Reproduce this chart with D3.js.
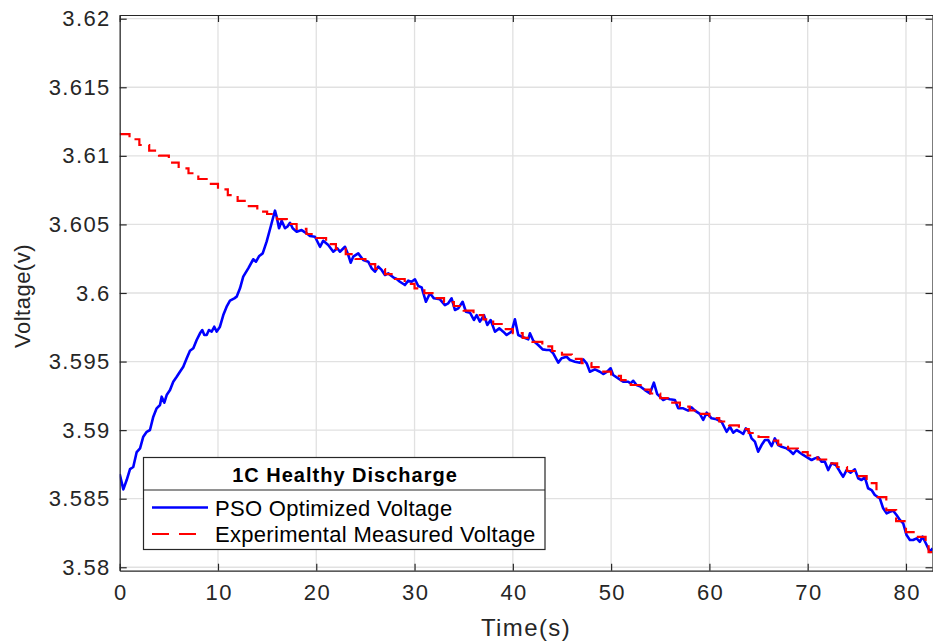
<!DOCTYPE html>
<html>
<head>
<meta charset="utf-8">
<script src="https://cdn.jsdelivr.net/npm/d3@7"></script>
<style>
  body { margin: 0; background: #fff; }
  text { font-family: "Liberation Sans", Arial, Helvetica, sans-serif; fill: #262626; }
</style>
</head>
<body>
<div id="chart"></div>
<script>
// tick values
const xTicks = [0, 10, 20, 30, 40, 50, 60, 70, 80];
const yTicks = [3.58, 3.585, 3.59, 3.595, 3.6, 3.605, 3.61, 3.615, 3.62];
const yTickLabels = ["3.58", "3.585", "3.59", "3.595", "3.6", "3.605", "3.61", "3.615", "3.62"];

// PSO optimized voltage (blue)
const blueTime = [0, 0.37, 0.71, 1.05, 1.38, 1.73, 2.07, 2.40, 2.75, 3.08, 3.42, 3.76, 4.10, 4.27, 4.54, 4.78,
  5.12, 5.45, 5.80, 6.13, 6.47, 6.82, 7.15, 7.49, 7.83, 8.17, 8.40, 8.61, 8.85, 9.08, 9.36, 9.62, 9.87,
  10.20, 10.54, 10.88, 11.22, 11.66, 11.90, 12.24, 12.57, 13.08, 13.59, 13.87, 14.20, 14.55, 14.95,
  15.36, 15.63, 15.80, 15.97, 16.21, 16.48, 16.82, 17.05, 17.33, 17.60, 18.01, 18.51, 19.02, 19.36, 19.87,
  20.38, 20.71, 21.22, 21.73, 22.14, 22.41, 22.92, 23.26, 23.50, 23.76, 24.27, 24.78, 25.29, 25.64, 25.97,
  26.31, 26.65, 26.99, 27.32, 27.83, 28.18, 28.51, 29.02, 29.36, 29.70, 30.04, 30.38, 30.72, 31.16, 31.57,
  31.97, 32.58, 33.09, 33.43, 33.77, 34.11, 34.45, 34.89, 35.23, 35.64, 36.04, 36.32, 36.65, 37.06, 37.40,
  37.74, 38.18, 38.62, 39.02, 39.37, 39.88, 40.21, 40.55, 41.06, 41.57, 41.74, 42.08, 42.58, 43.03, 43.44,
  43.77, 44.11, 44.62, 44.96, 45.47, 45.81, 46.32, 46.83, 47.16, 47.51, 47.84, 48.35, 48.86, 49.20, 49.60,
  49.95, 50.21, 50.72, 51.23, 51.74, 51.98, 52.25, 52.59, 53.00, 53.44, 53.95, 54.35, 54.69, 54.96, 55.30,
  55.65, 55.98, 56.49, 56.83, 57.34, 57.84, 58.19, 58.53, 59.03, 59.37, 59.72, 60.22, 60.73, 61.24, 61.75,
  62.09, 62.42, 62.77, 63.10, 63.44, 63.71, 64.05, 64.29, 64.63, 64.96, 65.31, 65.65, 65.98, 66.33, 66.66,
  67.00, 67.35, 67.85, 68.19, 68.53, 68.87, 69.21, 69.54, 69.95, 70.40, 70.73, 71.07, 71.41, 71.75, 72.09,
  72.43, 72.87, 73.28, 73.61, 73.96, 74.36, 74.80, 75.14, 75.48, 75.82, 76.15, 76.50, 76.83, 77.34, 77.68,
  78.03, 78.36, 78.70, 79.04, 79.38, 79.72, 80.06, 80.40, 80.73, 81.08, 81.41, 81.69, 82.02, 82.43, 82.71];
const blueVolt = [3.58680, 3.58568, 3.58636, 3.58716, 3.58731, 3.58840, 3.58867, 3.58952, 3.58988, 3.59001,
  3.59098, 3.59159, 3.59183, 3.59244, 3.59200, 3.59256, 3.59292, 3.59353, 3.59389, 3.59426, 3.59462, 3.59524,
  3.59579, 3.59597, 3.59657, 3.59706, 3.59730, 3.59694, 3.59694, 3.59730, 3.59718, 3.59754, 3.59718, 3.59754,
  3.59839, 3.59900, 3.59944, 3.59961, 3.59973, 3.60034, 3.60119, 3.60180, 3.60246, 3.60228, 3.60270, 3.60289,
  3.60374, 3.60483, 3.60556, 3.60600, 3.60556, 3.60472, 3.60527, 3.60472, 3.60483, 3.60512, 3.60472, 3.60447,
  3.60459, 3.60435, 3.60415, 3.60410, 3.60337, 3.60381, 3.60350, 3.60301, 3.60326, 3.60301, 3.60337, 3.60277,
  3.60221, 3.60265, 3.60289, 3.60240, 3.60228, 3.60180, 3.60155, 3.60192, 3.60168, 3.60131, 3.60143, 3.60114,
  3.60102, 3.60082, 3.60058, 3.60090, 3.60082, 3.60100, 3.60051, 3.60041, 3.59936, 3.59998, 3.59961, 3.59954,
  3.59912, 3.59925, 3.59961, 3.59876, 3.59888, 3.59936, 3.59863, 3.59856, 3.59803, 3.59839, 3.59791, 3.59839,
  3.59767, 3.59803, 3.59718, 3.59742, 3.59718, 3.59694, 3.59718, 3.59808, 3.59694, 3.59677, 3.59662, 3.59706,
  3.59652, 3.59621, 3.59589, 3.59584, 3.59584, 3.59560, 3.59492, 3.59524, 3.59535, 3.59511, 3.59499, 3.59492,
  3.59516, 3.59487, 3.59426, 3.59443, 3.59426, 3.59409, 3.59426, 3.59451, 3.59402, 3.59378, 3.59353, 3.59353,
  3.59341, 3.59360, 3.59329, 3.59317, 3.59292, 3.59268, 3.59346, 3.59263, 3.59244, 3.59220, 3.59232, 3.59225,
  3.59220, 3.59159, 3.59159, 3.59142, 3.59166, 3.59142, 3.59118, 3.59074, 3.59127, 3.59086, 3.59079, 3.59061,
  3.58988, 3.59025, 3.58981, 3.59001, 3.58988, 3.58972, 3.59013, 3.58988, 3.58940, 3.58916, 3.58843, 3.58891,
  3.58928, 3.58928, 3.58884, 3.58940, 3.58891, 3.58879, 3.58867, 3.58850, 3.58826, 3.58855, 3.58835, 3.58819,
  3.58802, 3.58782, 3.58794, 3.58802, 3.58770, 3.58770, 3.58709, 3.58758, 3.58746, 3.58697, 3.58660, 3.58709,
  3.58689, 3.58714, 3.58649, 3.58636, 3.58656, 3.58576, 3.58563, 3.58527, 3.58503, 3.58430, 3.58393, 3.58405,
  3.58412, 3.58381, 3.58345, 3.58320, 3.58235, 3.58199, 3.58199, 3.58211, 3.58186, 3.58223, 3.58175, 3.58113,
  3.58138];

// experimental measured voltage (red, stepped)
const redTime = [0, 1, 2, 3, 4, 5, 6, 7, 8, 9, 10, 11, 12, 13, 14, 15, 16, 17, 18, 19, 20, 21, 22, 23, 24,
  25, 26, 27, 28, 29, 30, 31, 32, 33, 34, 35, 36, 37, 38, 39, 40, 41, 42, 43, 44, 45, 46, 47, 48, 49, 50,
  51, 52, 53, 54, 55, 56, 57, 58, 59, 60, 61, 62, 63, 64, 65, 66, 67, 68, 69, 70, 71, 72, 73, 74, 75, 76,
  77, 78, 79, 80, 81, 82, 82.3, 82.7];
const redVolt = [3.61159, 3.61121, 3.61079, 3.61038, 3.61001, 3.60950, 3.60909, 3.60873, 3.60831, 3.60795,
  3.60756, 3.60714, 3.60671, 3.60634, 3.60593, 3.60576, 3.60539, 3.60503, 3.60467, 3.60430, 3.60401, 3.60357,
  3.60321, 3.60284, 3.60248, 3.60211, 3.60175, 3.60138, 3.60102, 3.60066, 3.60033, 3.59999, 3.59963, 3.59934,
  3.59905, 3.59872, 3.59839, 3.59807, 3.59774, 3.59737, 3.59708, 3.59672, 3.59643, 3.59610, 3.59577, 3.59551,
  3.59519, 3.59489, 3.59460, 3.59427, 3.59395, 3.59365, 3.59329, 3.59296, 3.59267, 3.59234, 3.59201, 3.59172,
  3.59143, 3.59118, 3.59088, 3.59063, 3.59034, 3.59008, 3.58979, 3.58950, 3.58924, 3.58895, 3.58866, 3.58840,
  3.58815, 3.58786, 3.58757, 3.58731, 3.58702, 3.58665, 3.58614, 3.58512, 3.58417, 3.58337, 3.58257, 3.58221,
  3.58162, 3.58111, 3.58111];

const legendTitle = "1C Healthy Discharge";
const seriesNames = ["PSO Optimized Voltage", "Experimental Measured Voltage"];

const W = 933, H = 642;
const plot = {left: 119.7, right: 932.5, top: 15, bottom: 570.7};
const axisColor = "#262626";

const svg = d3.select("#chart").append("svg")
    .attr("width", W)
    .attr("height", H);

const x = d3.scaleLinear().domain([0, 82.7]).range([plot.left, plot.right]);
const y = d3.scaleLinear().domain([3.57975, 3.62027]).range([plot.bottom, plot.top]);

svg.append("clipPath").attr("id", "clip")
  .append("rect")
    .attr("x", plot.left).attr("y", plot.top)
    .attr("width", plot.right - plot.left).attr("height", plot.bottom - plot.top);

// grid
const grid = svg.append("g").attr("stroke", "#e1e1e1").attr("stroke-width", 1.3);
grid.selectAll(".gx").data(xTicks).join("line")
    .attr("x1", d => x(d)).attr("x2", d => x(d))
    .attr("y1", plot.top).attr("y2", plot.bottom);
grid.selectAll(".gy").data(yTicks).join("line")
    .attr("x1", plot.left).attr("x2", plot.right)
    .attr("y1", d => y(d)).attr("y2", d => y(d));

// lines
const blueData = blueTime.map((t, i) => ({t: t, v: blueVolt[i]}));
const redData = redTime.map((t, i) => ({t: t, v: redVolt[i]}));

const lines = svg.append("g").attr("clip-path", "url(#clip)");

lines.append("path")
    .datum(blueData)
    .attr("fill", "none")
    .attr("stroke", "#0000ff")
    .attr("stroke-width", 2.6)
    .attr("stroke-linejoin", "round")
    .attr("d", d3.line().x(d => x(d.t)).y(d => y(d.v)));

lines.append("path")
    .datum(redData)
    .attr("fill", "none")
    .attr("stroke", "#ff0000")
    .attr("stroke-width", 2.2)
    .attr("stroke-dasharray", "13,7")
    .attr("d", d3.line().curve(d3.curveStepAfter).x(d => x(d.t)).y(d => y(d.v)));

// axes (box with inward ticks on all sides)
function styleAxis(g) {
  g.select(".domain").attr("stroke", axisColor).attr("stroke-width", 1.2);
  g.selectAll(".tick line").attr("stroke", axisColor).attr("stroke-width", 1.2);
  g.selectAll(".tick text")
    .attr("fill", axisColor)
    .style("font-size", "22px")
    .style("letter-spacing", "1.4px");
}

svg.append("g")
    .attr("transform", `translate(0,${plot.bottom})`)
    .call(d3.axisBottom(x).tickValues(xTicks).tickSizeInner(-7).tickSizeOuter(0).tickPadding(14))
    .call(styleAxis)
    .call(g => g.selectAll(".tick text").attr("dx", "0.7px"));

svg.append("g")
    .attr("transform", `translate(0,${plot.top})`)
    .call(d3.axisTop(x).tickValues(xTicks).tickSizeInner(-7).tickSizeOuter(0).tickFormat(""))
    .call(styleAxis);

svg.append("g")
    .attr("transform", `translate(${plot.left},0)`)
    .call(d3.axisLeft(y).tickValues(yTicks).tickSizeInner(-7).tickSizeOuter(0).tickPadding(9)
      .tickFormat((d, i) => yTickLabels[i]))
    .call(styleAxis);

svg.append("g")
    .attr("transform", `translate(${plot.right},0)`)
    .call(d3.axisRight(y).tickValues(yTicks).tickSizeInner(-7).tickSizeOuter(0).tickFormat(""))
    .call(styleAxis);

// axis labels
svg.append("text")
    .attr("x", 526)
    .attr("y", 636)
    .attr("text-anchor", "middle")
    .style("font-size", "24px")
    .style("letter-spacing", "1.4px")
    .text("Time(s)");

svg.append("text")
    .attr("transform", "translate(30,296) rotate(-90)")
    .attr("text-anchor", "middle")
    .style("font-size", "22px")
    .style("letter-spacing", "0.5px")
    .text("Voltage(v)");

// legend
const lg = svg.append("g");
lg.append("rect")
    .attr("x", 143.5).attr("y", 457.5)
    .attr("width", 401.5).attr("height", 92)
    .attr("fill", "#fff")
    .attr("stroke", axisColor)
    .attr("stroke-width", 1.2);
lg.append("line")
    .attr("x1", 143.5).attr("x2", 545)
    .attr("y1", 490).attr("y2", 490)
    .attr("stroke", axisColor).attr("stroke-width", 1.2);
lg.append("text")
    .attr("x", 345)
    .attr("y", 482)
    .attr("text-anchor", "middle")
    .style("font-size", "20px")
    .style("font-weight", "bold")
    .style("letter-spacing", "1px")
    .style("fill", "#000")
    .text(legendTitle);

const entries = [
  {name: seriesNames[0], color: "#0000ff", dash: null, width: 2.6, cy: 507.5, x2: 208},
  {name: seriesNames[1], color: "#ff0000", dash: "17,10", width: 2.2, cy: 534, x2: 200}
];
entries.forEach(e => {
  lg.append("line")
      .attr("x1", 152).attr("x2", e.x2)
      .attr("y1", e.cy).attr("y2", e.cy)
      .attr("stroke", e.color)
      .attr("stroke-width", e.width)
      .attr("stroke-dasharray", e.dash);
  lg.append("text")
      .attr("x", 215)
      .attr("y", e.cy + 8)
      .style("font-size", "22px")
      .style("letter-spacing", "0.3px")
      .style("fill", "#000")
      .text(e.name);
});
</script>
</body>
</html>
